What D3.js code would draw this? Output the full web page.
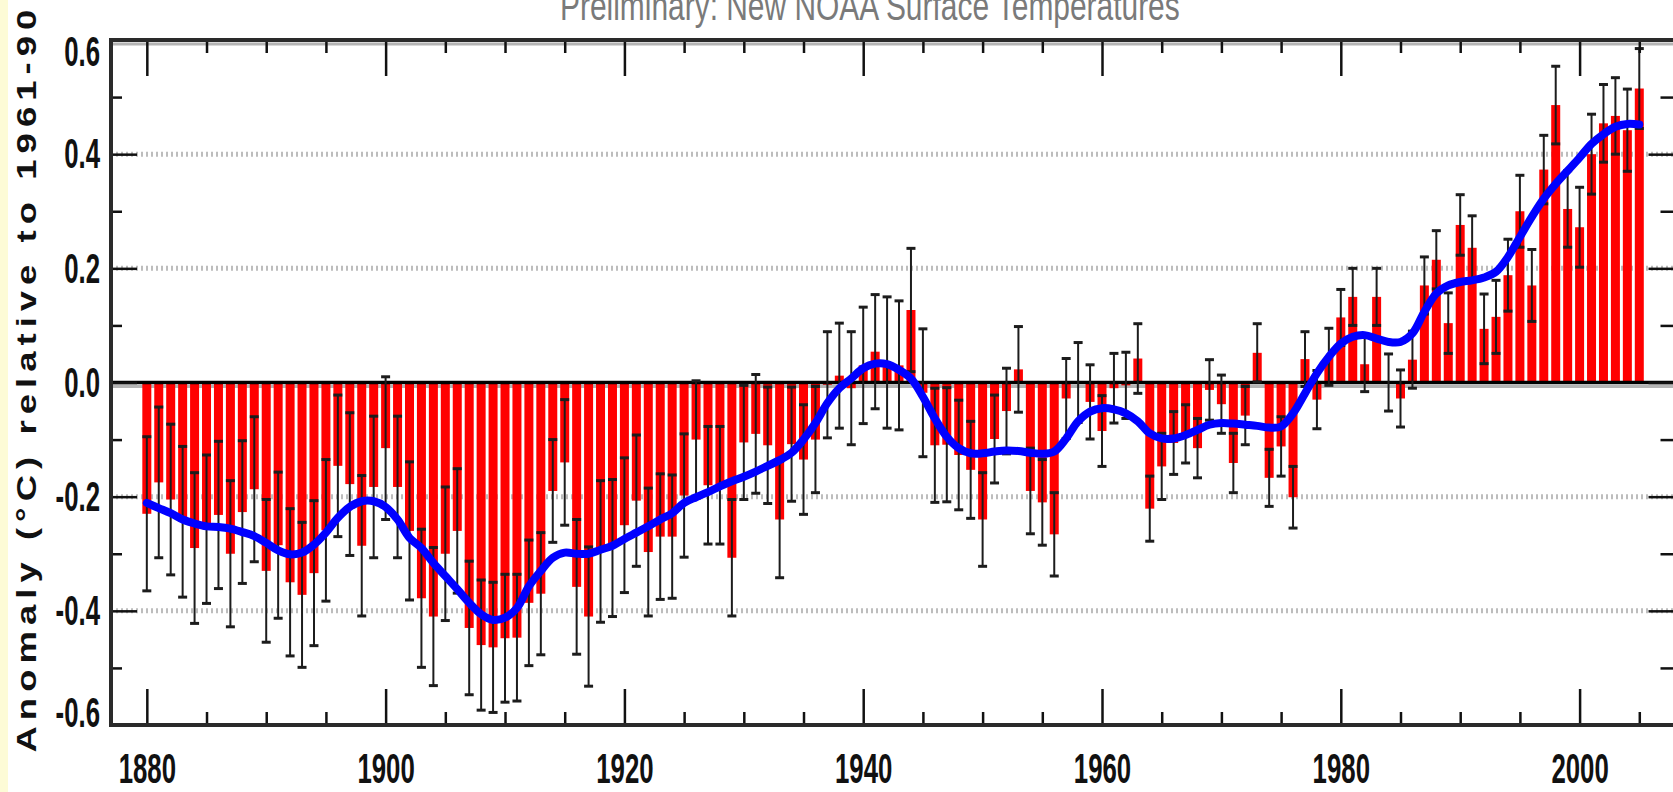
<!DOCTYPE html>
<html><head><meta charset="utf-8">
<script src="https://cdn.jsdelivr.net/npm/d3@7"></script>
<style>html,body{margin:0;padding:0;background:#fff;overflow:hidden} svg{display:block}</style>
</head><body>
<svg id="chart" width="1673" height="792"></svg>
<script>
// ---------------- DATA ----------------
const firstYear = 1880;
const anomaly = [
  -0.23, -0.175, -0.205, -0.244, -0.29, -0.257, -0.232, -0.30, -0.227, -0.187,
  -0.33, -0.285, -0.35, -0.372, -0.334, -0.259, -0.146, -0.178, -0.286, -0.183,
  -0.115, -0.183, -0.26, -0.378, -0.41, -0.30, -0.26, -0.43, -0.46, -0.464,
  -0.448, -0.447, -0.386, -0.37, -0.19, -0.14, -0.358, -0.41, -0.296, -0.29,
  -0.25, -0.207, -0.297, -0.27, -0.27, -0.198, -0.10, -0.18, -0.18, -0.307,
  -0.105, -0.09, -0.11, -0.24, -0.108, -0.135, -0.10, -0.004, 0.012, -0.01,
  0.03, 0.054, 0.035, 0.03, 0.127, -0.018, -0.11, -0.109, -0.127, -0.153,
  -0.24, -0.099, -0.05, 0.023, -0.19, -0.21, -0.266, -0.028, 0.0, -0.034,
  -0.085, -0.01, -0.005, 0.042, -0.221, -0.147, -0.106, -0.09, -0.115, -0.013,
  -0.038, -0.141, -0.058, 0.052, -0.167, -0.112, -0.201, 0.041, -0.03, 0.045,
  0.114, 0.15, 0.032, 0.15, 0.0, -0.028, 0.04, 0.17, 0.215, 0.104,
  0.276, 0.236, 0.094, 0.115, 0.188, 0.30, 0.17, 0.373, 0.486, 0.304,
  0.272, 0.40, 0.454, 0.467, 0.442, 0.515
];
const errorHalf = [
  .135,.132,.132,.132,.132,.13,.129,.128,.125,.127,
  .125,.128,.129,.127,.127,.124,.124,.125,.123,.124,
  .125,.124,.121,.121,.121,.117,.109,.117,.114,.114,
  .112,.111,.11,.107,.09,.11,.118,.122,.124,.12,
  .118,.115,.112,.11,.108,.108,.103,.103,.103,.102,
  .10,.104,.102,.102,.10,.096,.093,.093,.092,.099,
  .102,.10,.115,.113,.108,.112,.10,.10,.096,.085,
  .082,.077,.075,.075,.075,.075,.073,.07,.07,.065,
  .062,.061,.058,.061,.057,.058,.055,.051,.052,.053,
  .051,.052,.051,.051,.05,.052,.054,.048,.051,.05,
  .049,.05,.048,.05,.05,.05,.05,.05,.051,.053,
  .053,.056,.061,.064,.063,.063,.063,.06,.068,.067,
  .07,.07,.068,.067,.072,.07
];
const smooth = [
  -0.211,-0.22,-0.229,-0.24,-0.247,-0.252,-0.253,-0.256,-0.262,-0.269,
  -0.281,-0.294,-0.301,-0.298,-0.284,-0.263,-0.237,-0.218,-0.208,-0.208,
  -0.218,-0.24,-0.272,-0.29,-0.316,-0.339,-0.362,-0.386,-0.406,-0.416,
  -0.412,-0.395,-0.357,-0.33,-0.307,-0.298,-0.3,-0.3,-0.293,-0.286,
  -0.274,-0.263,-0.252,-0.24,-0.229,-0.211,-0.201,-0.192,-0.182,-0.173,
  -0.165,-0.156,-0.146,-0.136,-0.123,-0.10,-0.071,-0.036,-0.01,0.007,
  0.025,0.033,0.032,0.022,0.007,-0.025,-0.063,-0.095,-0.115,-0.124,
  -0.124,-0.121,-0.119,-0.12,-0.123,-0.125,-0.121,-0.098,-0.068,-0.051,
  -0.045,-0.047,-0.054,-0.068,-0.089,-0.098,-0.098,-0.092,-0.083,-0.074,
  -0.071,-0.072,-0.074,-0.076,-0.079,-0.077,-0.054,-0.019,0.016,0.045,
  0.068,0.08,0.083,0.077,0.071,0.071,0.086,0.124,0.156,0.17,
  0.176,0.179,0.184,0.194,0.22,0.255,0.29,0.322,0.348,0.371,
  0.394,0.418,0.435,0.448,0.453,0.452
];
const xMajorTicks = [1880, 1900, 1920, 1940, 1960, 1980, 2000];
const xMinorTicks = [1885,1890,1895,1905,1910,1915,1925,1930,1935,1945,1950,1955,1965,1970,1975,1985,1990,1995,2005];
const yMajorTicks = [-0.6, -0.4, -0.2, 0.0, 0.2, 0.4, 0.6];
const yMinorTicks = [-0.5, -0.3, -0.1, 0.1, 0.3, 0.5];
const yTickLabels = ["-0.6", "-0.4", "-0.2", "0.0", "0.2", "0.4", "0.6"];
const gridValues = [-0.4, -0.2, 0.2, 0.4];
const titleText = "Preliminary: New NOAA Surface Temperatures";
const yTitleText = "Anomaly (\u00B0C) relative to 1961-90";

// ---------------- LAYOUT ----------------
const years = anomaly.map((_, i) => firstYear + i);
const L = 111, R = 1677.5, T = 40, B = 725;
const x = d3.scaleLinear().domain([1877, 2008.2]).range([L, R]);
const y = d3.scaleLinear().domain([-0.6, 0.6]).range([B, T]);
const barW = 9;

const svg = d3.select("#chart");
svg.append("rect").attr("width", 1673).attr("height", 792).attr("fill", "#fff");
svg.append("rect").attr("x", 0).attr("y", 0).attr("width", 8).attr("height", 792).attr("fill", "#fdfbd6");

// title (partly cut at top, as in the source image)
const tt = svg.append("text").text(titleText)
  .attr("font-family", "'Liberation Sans', Arial, sans-serif")
  .attr("font-size", 40).attr("fill", "#7a7a7a");
const tLen = tt.node().getComputedTextLength();
tt.attr("transform", `translate(${870 - 310},20) scale(${620 / tLen},1)`);

// grid
svg.append("g").selectAll("line").data(gridValues).join("line")
  .attr("x1", L).attr("x2", R).attr("y1", d => y(d)).attr("y2", d => y(d))
  .attr("stroke", "#bdbdbd").attr("stroke-width", 5).attr("stroke-dasharray", "2,3");

// grey band under zero & top axis
svg.append("line").attr("x1", L).attr("x2", R).attr("y1", y(0) + 4).attr("y2", y(0) + 4)
  .attr("stroke", "#b4b4b4").attr("stroke-width", 3);
svg.append("line").attr("x1", L).attr("x2", R).attr("y1", T + 4).attr("y2", T + 4)
  .attr("stroke", "#b4b4b4").attr("stroke-width", 3);

// bars
svg.append("g").selectAll("rect").data(years).join("rect")
  .attr("x", (d) => x(d) - barW / 2)
  .attr("width", barW)
  .attr("y", (d, i) => y(Math.max(0, anomaly[i])))
  .attr("height", (d, i) => Math.abs(y(anomaly[i]) - y(0)))
  .attr("fill", "#ff0000");

// zero line
svg.append("line").attr("x1", L).attr("x2", R).attr("y1", y(0)).attr("y2", y(0))
  .attr("stroke", "#000").attr("stroke-width", 3.5);

// error bars
const eg = svg.append("g").attr("stroke", "#1c1c1c");
eg.selectAll("line.v").data(years).join("line").attr("class", "v")
  .attr("x1", d => x(d)).attr("x2", d => x(d))
  .attr("y1", (d, i) => y(anomaly[i] - errorHalf[i]))
  .attr("y2", (d, i) => y(anomaly[i] + errorHalf[i]))
  .attr("stroke-width", 2);
["lo", "hi"].forEach(k => {
  eg.selectAll("line." + k).data(years).join("line").attr("class", k)
    .attr("x1", d => x(d) - 4.5).attr("x2", d => x(d) + 4.5)
    .attr("y1", (d, i) => y(anomaly[i] + (k === "hi" ? 1 : -1) * errorHalf[i]))
    .attr("y2", (d, i) => y(anomaly[i] + (k === "hi" ? 1 : -1) * errorHalf[i]))
    .attr("stroke-width", 3);
});

// smooth curve
svg.append("path").datum(years)
  .attr("d", d3.line().x(d => x(d)).y((d, i) => y(smooth[i])).curve(d3.curveCatmullRom))
  .attr("fill", "none").attr("stroke", "#0000ff").attr("stroke-width", 8)
  .attr("stroke-linecap", "round").attr("stroke-linejoin", "round");

// axes ticks
function tickAxis(axis, tf) {
  const g = svg.append("g").attr("transform", tf).call(axis);
  g.select(".domain").remove();
  g.selectAll(".tick line").attr("stroke", "#111").attr("stroke-width", 2.5);
  return g;
}
tickAxis(d3.axisTop(x).tickValues(xMajorTicks).tickSize(36).tickSizeOuter(0).tickFormat(""), `translate(0,${B})`);
tickAxis(d3.axisTop(x).tickValues(xMinorTicks).tickSize(13).tickSizeOuter(0).tickFormat(""), `translate(0,${B})`);
tickAxis(d3.axisBottom(x).tickValues(xMajorTicks).tickSize(36).tickSizeOuter(0).tickFormat(""), `translate(0,${T})`);
tickAxis(d3.axisBottom(x).tickValues(xMinorTicks).tickSize(13).tickSizeOuter(0).tickFormat(""), `translate(0,${T})`);
tickAxis(d3.axisRight(y).tickValues(yMajorTicks).tickSize(26).tickSizeOuter(0).tickFormat(""), `translate(${L},0)`);
tickAxis(d3.axisRight(y).tickValues(yMinorTicks).tickSize(11).tickSizeOuter(0).tickFormat(""), `translate(${L},0)`);
tickAxis(d3.axisLeft(y).tickValues(yMajorTicks).tickSize(29).tickSizeOuter(0).tickFormat(""), `translate(${R},0)`);
tickAxis(d3.axisLeft(y).tickValues(yMinorTicks).tickSize(17).tickSizeOuter(0).tickFormat(""), `translate(${R},0)`);

// frame
svg.append("rect").attr("x", L).attr("y", T).attr("width", R - L).attr("height", B - T)
  .attr("fill", "none").attr("stroke", "#2a2a2a").attr("stroke-width", 4);

// tick labels
const labelFont = "'Liberation Sans', Arial, sans-serif";
const xl = svg.append("g").attr("transform", `translate(0,${B})`)
  .call(d3.axisBottom(x).tickValues(xMajorTicks).tickSize(0).tickPadding(27).tickFormat(d3.format("d")));
xl.select(".domain").remove();
xl.selectAll("text").attr("font-family", labelFont).attr("font-size", 43).attr("font-weight", "bold")
  .attr("fill", "#111").attr("transform", "scale(0.6,1)");

const yl = svg.append("g").attr("transform", `translate(${L},0)`)
  .call(d3.axisLeft(y).tickValues(yMajorTicks).tickSize(0).tickPadding(0)
    .tickFormat((d, i) => yTickLabels[i]));
yl.select(".domain").remove();
yl.selectAll("text").attr("font-family", labelFont).attr("font-size", 43).attr("font-weight", "bold")
  .attr("fill", "#111").attr("x", 0)
  .attr("transform", d => `translate(-11,${d === 0.6 ? 12 : d === -0.6 ? -12 : 0}) scale(0.6,1)`);

// y title
const yt = svg.append("text").text(yTitleText)
  .attr("font-family", labelFont).attr("font-size", 27).attr("font-weight", "bold").attr("fill", "#111");
const n = yt.node().getComputedTextLength();
const stretch = 1.35, target = 743 / stretch;
const ls = (target - n) / (yTitleText.length - 1);
yt.attr("letter-spacing", ls).attr("x", -target / 2)
  .attr("transform", `translate(36,381) rotate(-90) scale(${stretch},1)`);
</script>
</body></html>
